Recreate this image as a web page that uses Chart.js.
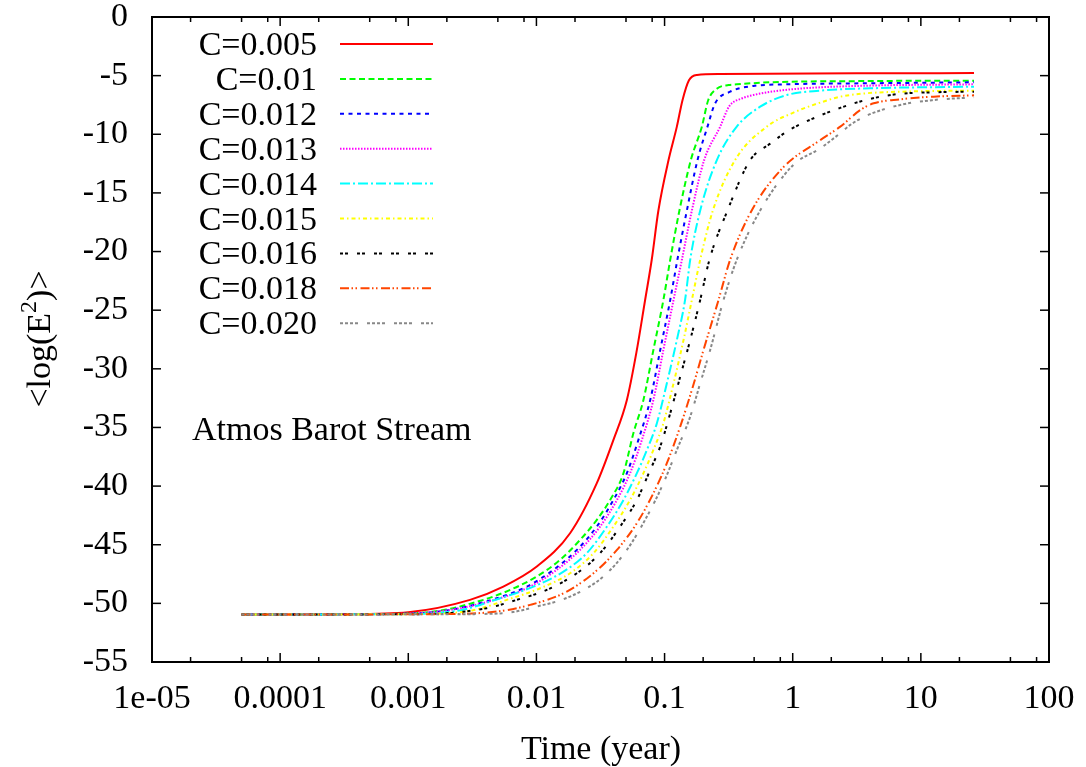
<!DOCTYPE html>
<html>
<head>
<meta charset="utf-8">
<script src="https://cdn.jsdelivr.net/npm/chart.js@4.4.0/dist/chart.umd.min.js"></script>
<style>
  html, body { margin: 0; padding: 0; background: #fff; }
  #wrap { width: 1086px; height: 767px; }
</style>
</head>
<body>
<div id="wrap"><canvas id="c" width="1086" height="767"></canvas></div>
<script>
// tick labels
const xTickValues = [1e-5, 1e-4, 1e-3, 1e-2, 1e-1, 1, 10, 100];
const xTickLabels = ['1e-05', '0.0001', '0.001', '0.01', '0.1', '1', '10', '100'];
const xMinorSteps = [2, 5, 8];

// series labels
const seriesLabels = ['C=0.005', 'C=0.01', 'C=0.012', 'C=0.013', 'C=0.014', 'C=0.015', 'C=0.016', 'C=0.018', 'C=0.020'];

// time (year) and <log(E^2)> for each run
const tC005 = [5.0e-5, 3.16e-4, 1.0e-3, 3.03e-3, 5.52e-3, 1.007e-2, 1.83e-2, 2.96e-2, 3.99e-2, 5.08e-2, 6.03e-2, 7.05e-2, 7.94e-2, 8.95e-2, 0.1074, 0.1247, 0.138, 0.155, 0.179, 0.272, 4.03, 26];
const vC005 = [-50.95, -50.92, -50.75, -49.7, -48.57, -46.86, -44.02, -39.75, -36.06, -32.65, -28.6, -24.13, -20.7, -16.5, -12.2, -9.35, -7.1, -5.4, -4.94, -4.86, -4.80, -4.78];

const tC010 = [5.0e-5, 5.0e-4, 1.58e-3, 3.85e-3, 6.24e-3, 1.007e-2, 1.53e-2, 2.19e-2, 2.96e-2, 3.76e-2, 4.78e-2, 5.71e-2, 6.84e-2, 8.18e-2, 9.79e-2, 0.1107, 0.1306, 0.1603, 0.1954, 0.219, 0.257, 0.316, 0.366, 0.667, 4.03, 26];
const vC010 = [-50.95, -50.92, -50.7, -49.7, -48.85, -47.71, -46.29, -44.59, -42.88, -41.18, -38.9, -35.49, -32.65, -28.39, -24.13, -20.7, -16.5, -12.2, -9.35, -7.1, -6.1, -5.8, -5.74, -5.57, -5.46, -5.43];

const tC012 = [5.0e-5, 6.3e-4, 2.0e-3, 4.91e-3, 8.41e-3, 1.358e-2, 2.07e-2, 2.96e-2, 3.99e-2, 5.08e-2, 6.25e-2, 7.73e-2, 9.25e-2, 0.1107, 0.1259, 0.1493, 0.1807, 0.2163, 0.248, 0.325, 0.494, 0.902, 4.03, 26];
const vC012 = [-50.95, -50.92, -50.6, -49.56, -48.57, -47.14, -45.44, -43.45, -41.18, -38.9, -36.06, -32.65, -28.39, -24.13, -20.7, -16.5, -12.2, -9.35, -7.36, -6.37, -5.88, -5.74, -5.65, -5.57];

const tC013 = [5.0e-5, 6.3e-4, 2.0e-3, 5.21e-3, 8.93e-3, 1.442e-2, 2.19e-2, 3.14e-2, 4.25e-2, 5.38e-2, 6.65e-2, 8.18e-2, 9.79e-2, 0.1175, 0.1365, 0.1633, 0.2037, 0.2716, 0.32, 0.40, 0.494, 0.70, 1.213, 4.03, 26];
const vC013 = [-50.95, -50.92, -50.6, -49.56, -48.57, -47.14, -45.44, -43.45, -41.18, -38.9, -36.06, -32.65, -28.39, -24.13, -20.7, -16.5, -12.2, -9.35, -7.6, -6.95, -6.65, -6.35, -6.08, -5.85, -5.74];

const tC014 = [5.0e-5, 7.9e-4, 2.5e-3, 5.21e-3, 9.48e-3, 1.626e-2, 2.47e-2, 3.55e-2, 4.78e-2, 6.08e-2, 7.28e-2, 8.71e-2, 0.1042, 0.1247, 0.1445, 0.1585, 0.1897, 0.2559, 0.366, 0.557, 0.902, 1.64, 4.03, 26];
const vC014 = [-50.95, -50.92, -50.6, -49.56, -48.57, -47.29, -45.72, -43.45, -41.18, -38.9, -36.92, -34.64, -31.23, -27.54, -24.13, -20.7, -16.5, -12.2, -9.35, -7.65, -6.65, -6.28, -6.08, -5.94];

const tC015 = [5.0e-5, 1.0e-3, 3.16e-3, 5.87e-3, 1.069e-2, 1.83e-2, 2.79e-2, 3.99e-2, 5.38e-2, 6.84e-2, 8.18e-2, 9.79e-2, 0.1175, 0.1406, 0.1633, 0.1897, 0.2382, 0.3548, 0.628, 1.014, 1.64, 2.35, 3.79, 6.90, 12.6, 26];
const vC015 = [-50.95, -50.92, -50.6, -49.7, -48.71, -47.43, -45.72, -43.45, -41.18, -38.9, -36.92, -34.64, -31.23, -27.54, -24.13, -20.7, -16.5, -12.2, -9.35, -8.15, -7.3, -6.8, -6.5, -6.37, -6.31, -6.28];

const tC016 = [5.0e-5, 1.26e-3, 4.10e-3, 7.03e-3, 1.205e-2, 2.07e-2, 3.14e-2, 4.50e-2, 6.08e-2, 7.73e-2, 9.25e-2, 0.1107, 0.1324, 0.1585, 0.1897, 0.2239, 0.3097, 0.4656, 0.667, 0.955, 1.64, 2.35, 3.37, 4.82, 6.90, 12.5, 26];
const vC016 = [-50.95, -50.92, -50.41, -49.7, -48.85, -47.43, -45.72, -43.45, -41.18, -38.62, -36.63, -33.79, -30.67, -27.54, -24.13, -20.7, -16.5, -12.2, -10.8, -9.6, -8.4, -7.75, -7.2, -6.8, -6.55, -6.42, -6.37];

const tC018 = [5.0e-5, 1.58e-3, 4.91e-3, 8.93e-3, 1.626e-2, 2.79e-2, 4.25e-2, 6.08e-2, 8.18e-2, 0.1042, 0.1324, 0.1633, 0.2014, 0.2636, 0.325, 0.4786, 0.847, 1.64, 2.35, 3.37, 4.28, 6.90, 12.6, 26];
const vC018 = [-50.95, -50.92, -50.7, -50.13, -49.14, -47.43, -45.44, -43.16, -40.61, -38.05, -34.93, -31.8, -28.39, -24.13, -20.7, -16.5, -12.8, -10.5, -9.35, -7.93, -7.36, -7.02, -6.79, -6.68];

const tC020 = [5.0e-5, 2.0e-3, 5.52e-3, 1.007e-2, 1.83e-2, 3.33e-2, 5.08e-2, 7.28e-2, 9.79e-2, 0.1247, 0.1585, 0.1897, 0.227, 0.2884, 0.366, 0.557, 1.014, 1.64, 2.35, 2.81, 3.79, 6.90, 12.6, 26];
const vC020 = [-50.95, -50.93, -50.84, -50.27, -49.42, -47.71, -45.44, -42.6, -39.76, -36.92, -34.08, -31.23, -28.39, -24.13, -20.7, -16.5, -12.6, -11.2, -9.9, -9.2, -8.4, -7.5, -7.08, -6.85];

const seriesTimes = [tC005, tC010, tC012, tC013, tC014, tC015, tC016, tC018, tC020];
const seriesValues = [vC005, vC010, vC012, vC013, vC014, vC015, vC016, vC018, vC020];

const colors = ['#ff0000', '#00ff00', '#0000ff', '#ff00ff', '#00ffff', '#ffff00', '#000000', '#ff4500', '#888888'];
const dashes = [[], [6, 3.5], [4, 4.5], [1.5, 1.5], [10, 3, 2, 3], [4, 3, 1.5, 3], [3, 2, 3, 9], [9, 2.5, 1.5, 2.5, 1.5, 3.5], [3, 2, 3, 2, 3, 2, 3, 9]];

const FONT = '"Liberation Serif", "Times New Roman", serif';

const datasets = seriesLabels.map((label, i) => ({
  label,
  data: seriesTimes[i].map((t, k) => ({ x: t, y: seriesValues[i][k] })),
  borderColor: colors[i],
  borderDash: dashes[i],
  borderWidth: 2,
  pointRadius: 0,
  fill: false,
  cubicInterpolationMode: 'monotone',
  order: seriesLabels.length - i
}));

const deco = {
  id: 'deco',
  afterDraw(chart) {
    const { ctx, chartArea: a, scales: { x, y } } = chart;
    ctx.save();
    ctx.strokeStyle = '#000';
    ctx.lineWidth = 1.5;
    const seg = (x1, y1, x2, y2) => { ctx.beginPath(); ctx.moveTo(x1, y1); ctx.lineTo(x2, y2); ctx.stroke(); };
    // y ticks both sides
    y.ticks.forEach(t => {
      const py = y.getPixelForValue(t.value);
      seg(a.left, py, a.left + 9, py);
      seg(a.right, py, a.right - 9, py);
    });
    // x ticks, major and minor, bottom and top
    xTickValues.forEach((v, i) => {
      const px = x.getPixelForValue(v);
      seg(px, a.bottom, px, a.bottom - 9);
      seg(px, a.top, px, a.top + 9);
      if (i < xTickValues.length - 1) {
        xMinorSteps.forEach(m => {
          const mx = x.getPixelForValue(v * m);
          seg(mx, a.bottom, mx, a.bottom - 5);
          seg(mx, a.top, mx, a.top + 5);
        });
      }
    });
    // frame
    ctx.lineWidth = 2;
    ctx.strokeRect(a.left, a.top, a.right - a.left, a.bottom - a.top);

    // legend
    ctx.fillStyle = '#000';
    ctx.font = '34px ' + FONT;
    ctx.textAlign = 'right';
    ctx.textBaseline = 'alphabetic';
    chart.data.datasets.forEach((ds, i) => {
      const ry = 44 + i * 34.9;
      ctx.fillText(ds.label, 317, ry + 11);
      ctx.save();
      ctx.strokeStyle = ds.borderColor;
      ctx.lineWidth = 2;
      ctx.setLineDash(ds.borderDash);
      seg(340, ry, 433, ry);
      ctx.restore();
    });

    // annotation
    ctx.textAlign = 'left';
    ctx.fillText('Atmos Barot Stream', 192, 440);

    // x title
    ctx.textAlign = 'center';
    ctx.fillText('Time (year)', 601, 759);

    // y title with superscript
    ctx.save();
    ctx.translate(50, 339);
    ctx.rotate(-Math.PI / 2);
    const p1 = '<log(E', p2 = '2', p3 = ')>';
    ctx.font = '34px ' + FONT;
    const w1 = ctx.measureText(p1).width, w3 = ctx.measureText(p3).width;
    ctx.font = '24px ' + FONT;
    const w2 = ctx.measureText(p2).width;
    let sx = -(w1 + w2 + w3) / 2;
    ctx.textAlign = 'left';
    ctx.font = '34px ' + FONT;
    ctx.fillText(p1, sx, 0);
    ctx.font = '24px ' + FONT;
    ctx.fillText(p2, sx + w1, -14);
    ctx.font = '34px ' + FONT;
    ctx.fillText(p3, sx + w1 + w2, 0);
    ctx.restore();

    ctx.restore();
  }
};

new Chart(document.getElementById('c'), {
  type: 'line',
  data: { datasets },
  options: {
    responsive: false,
    animation: false,
    events: [],
    layout: { padding: { top: 17, right: 37, left: 0, bottom: 0 } },
    plugins: { legend: { display: false }, tooltip: { enabled: false } },
    scales: {
      x: {
        type: 'logarithmic',
        min: 1e-5,
        max: 100,
        grid: { display: false, drawTicks: false },
        border: { display: false },
        afterBuildTicks: s => { s.ticks = xTickValues.map(v => ({ value: v })); },
        afterFit: s => { s.height = 105; s.paddingLeft = 0; s.paddingRight = 0; },
        ticks: {
          autoSkip: false,
          maxRotation: 0,
          padding: 17,
          color: '#000',
          font: { family: FONT, size: 34 },
          callback: (v) => { const i = xTickValues.indexOf(v); return i >= 0 ? xTickLabels[i] : ''; }
        }
      },
      y: {
        type: 'linear',
        min: -55,
        max: 0,
        grid: { display: false, drawTicks: false },
        border: { display: false },
        afterFit: s => { s.width = 152; s.paddingTop = 0; s.paddingBottom = 0; },
        ticks: {
          stepSize: 5,
          padding: 24,
          color: '#000',
          font: { family: FONT, size: 34 },
          callback: v => String(v)
        }
      }
    }
  },
  plugins: [deco]
});
</script>
</body>
</html>
